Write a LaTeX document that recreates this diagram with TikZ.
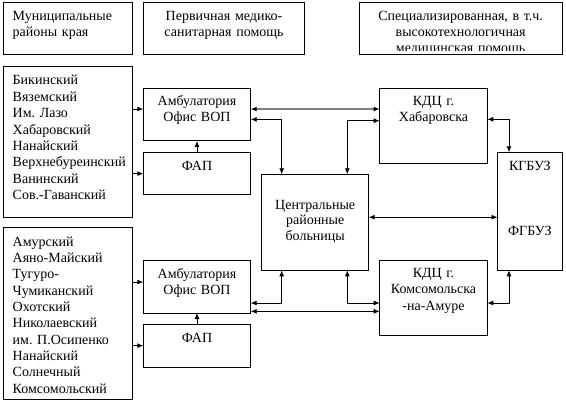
\documentclass[tikz,border=0pt]{standalone}
\usepackage{fontspec}
\setmainfont{Liberation Serif}
\usetikzlibrary{arrows.meta}
\frenchspacing
\begin{document}
\begin{tikzpicture}[x=1pt,y=-1pt,
  >={Latex[length=6pt,width=5pt]},
  box/.style={draw,line width=1pt,anchor=north west,inner ysep=0pt,inner xsep=3pt,
    outer sep=0pt,align=center,font=\fontsize{14}{16}\selectfont},
  lbox/.style={box,align=left,inner xsep=9.4pt,text width=110.2pt,minimum width=129pt,
    font=\fontsize{14}{16.35}\selectfont},
  link/.style={line width=0.9pt,<->},
  feed/.style={line width=0.9pt,->},
  wide/.style={draw=gray,line width=1.4pt,
    arrows={Latex[length=6pt,width=5pt,color=black]-Latex[length=6pt,width=5pt,color=black]}}]
  \useasboundingbox (0,0) rectangle (566,404);

  \node[lbox,minimum height=52.3pt,text height=18pt,text depth=34.3pt,
    font=\fontsize{14}{15.7}\selectfont] (hmun) at (3.3,2.7) {Муниципальные\\районы края};
  \node[box,minimum width=161.4pt,text width=155.4pt,minimum height=52.3pt,text height=18pt,
    text depth=34.3pt,font=\fontsize{14}{15.7}\selectfont] (hpmsp) at (143.3,2.7)
    {Первичная медико-\\санитарная помощь};
  \node[box,minimum width=203.3pt,minimum height=52.3pt] (hspec) at (359,2.7) {};
  \begin{scope}
    \clip (hspec.north west) rectangle ([yshift=4.5pt]hspec.south east);
    \node[box,draw=none,anchor=north,text width=197.3pt,text height=18pt,text depth=34.3pt,
      font=\fontsize{14}{15.8}\selectfont] (hspect) at (hspec.north)
      {Специализированная, в т.ч.\\высокотехнологичная\\медицинская помощь};
  \end{scope}

  \node[lbox,minimum height=150.3pt,text height=18.3pt,text depth=132pt] (raion1) at (3.3,66.7)
    {Бикинский\\Вяземский\\Им. Лазо\\Хабаровский\\Нанайский\\Верхнебуреинский\\Ванинский\\Сов.-Гаванский};
  \node[lbox,minimum height=172pt,text height=18.3pt,text depth=153.7pt] (raion2) at (3.3,227.7)
    {Амурский\\Аяно-Майский\\Тугуро-\\Чумиканский\\Охотский\\Николаевский\\им. П.Осипенко\\Нанайский\\Солнечный\\Комсомольский};

  \node[box,minimum width=107.4pt,text width=101.4pt,minimum height=52.7pt,text height=17.7pt,
    text depth=35pt] (amb1) at (143.3,88.3) {Амбулатория\\Офис ВОП};
  \node[box,minimum width=107.4pt,text width=101.4pt,minimum height=42.7pt,text height=18.4pt,
    text depth=24.3pt] (fap1) at (143.3,152.3) {ФАП};
  \node[box,minimum width=107.4pt,text width=101.4pt,minimum height=52.7pt,text height=17.7pt,
    text depth=35pt] (amb2) at (143.3,260.3) {Амбулатория\\Офис ВОП};
  \node[box,minimum width=107.4pt,text width=101.4pt,minimum height=42.7pt,text height=18.4pt,
    text depth=24.3pt] (fap2) at (143.3,324.3) {ФАП};

  \node[box,minimum width=107pt,text width=101pt,minimum height=96pt,text height=34.7pt,
    text depth=61.3pt,font=\fontsize{14}{15.8}\selectfont] (crb) at (261.7,174.3)
    {Центральные\\районные\\больницы};
  \node[box,minimum width=107.6pt,text width=101.6pt,minimum height=75pt,text height=17.4pt,
    text depth=57.6pt] (kdc1) at (379.7,88.3) {КДЦ г.\\Хабаровска};
  \node[box,minimum width=107.6pt,text width=101.6pt,minimum height=75pt,text height=17pt,
    text depth=58pt,font=\fontsize{14}{16.6}\selectfont] (kdc2) at (379.7,260.3)
    {КДЦ г.\\Комсомольска\\-на-Амуре};
  \node[box,minimum width=64.8pt,text width=58.8pt,minimum height=118pt,text height=18.4pt,
    text depth=99.6pt] (kgbuz) at (497.5,152.3) {КГБУЗ\\[48.6pt]ФГБУЗ};

  \draw[feed] ([yshift=5.6pt]amb1.west -| raion1.east) -- ([yshift=5.6pt]amb1.west);
  \draw[feed] (fap1.west -| raion1.east) -- (fap1.west);
  \draw[feed] (fap1.north) -- (amb1.south);
  \draw[wide] ([yshift=5.6pt]amb1.east) -- ([yshift=5.6pt]amb1.east -| kdc1.west);
  \draw[link] ([yshift=-4.7pt]amb1.east) -| ([xshift=-33.5pt]crb.north);
  \draw[link] ([yshift=5.1pt]kdc1.west) -| ([xshift=32.1pt]crb.north);
  \draw[link] ([yshift=6.5pt]kdc1.east) -| ([xshift=-20.9pt]kgbuz.north);
  \draw[link] ([yshift=5.1pt]crb.east) -- ([yshift=5.1pt]crb.east -| kgbuz.west);

  \draw[feed] ([yshift=4.6pt]amb2.west -| raion2.east) -- ([yshift=4.6pt]amb2.west);
  \draw[feed] (fap2.west -| raion2.east) -- (fap2.west);
  \draw[feed] (fap2.north) -- (amb2.south);
  \draw[link] ([yshift=-16.4pt]amb2.east) -| ([xshift=-33.5pt]crb.south);
  \draw[link] ([yshift=-24.7pt]amb2.east) -- ([yshift=-24.7pt]amb2.east -| kdc2.west);
  \draw[link] ([yshift=-5.2pt]kdc2.west) -| ([xshift=32.1pt]crb.south);
  \draw[link] ([yshift=-5.2pt]kdc2.east) -| ([xshift=-20.9pt]kgbuz.south);
\end{tikzpicture}
\end{document}
